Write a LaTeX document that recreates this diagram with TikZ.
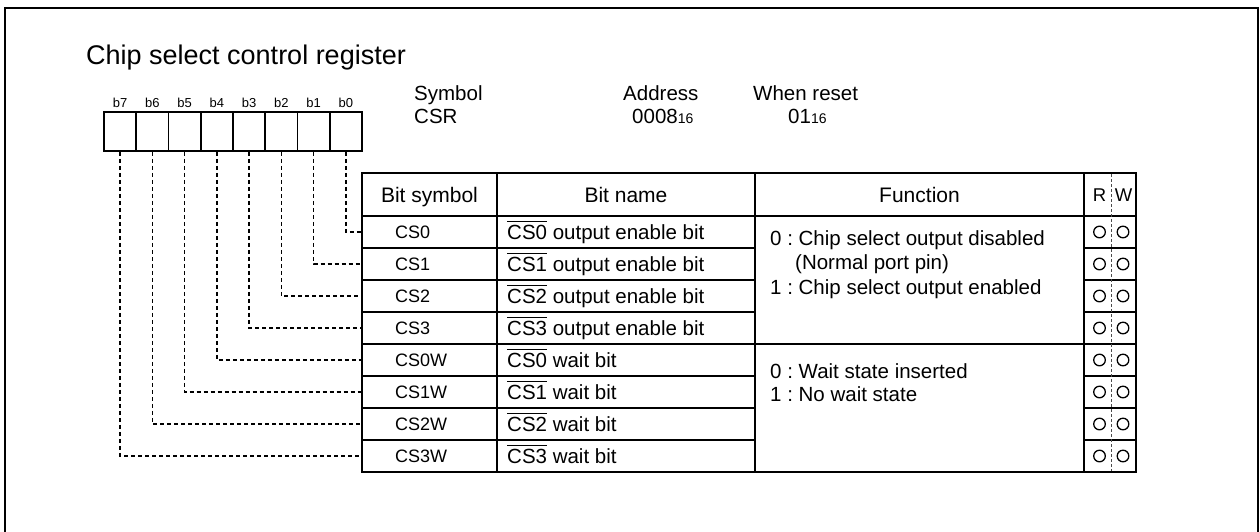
\documentclass[tikz,border=0pt]{standalone}
\usepackage{fontspec}
\setmainfont{Liberation Sans}
\frenchspacing
\newcommand\ovl[1]{\setbox0=\hbox{#1}\rlap{\rule[\dimexpr\ht0+3.2pt\relax]{\wd0}{1.1pt}}\box0\relax}
\tikzset{
  frame/.style={line width=2.6pt},
  tbl/.style={line width=1.8pt},
  regcell/.style={draw, line width=1.8pt, minimum width=32.25pt, minimum height=39pt, inner sep=0pt},
  symcell/.style={draw, line width=1.8pt, minimum width=135pt, minimum height=32pt, inner sep=0pt},
  namecell/.style={draw, line width=1.8pt, minimum width=258pt, minimum height=32pt, inner sep=0pt},
  conn/.style={line width=1.5pt, dash pattern=on 4pt off 3pt},
  rwdash/.style={line width=0.7pt, dash pattern=on 3pt off 2pt, black!70},
  circ/.style={line width=1.3pt},
  txt/.style={inner sep=0pt, anchor=base west},
  ctxt/.style={inner sep=0pt, anchor=base},
  titlefont/.style={font=\fontsize{27}{31}\selectfont},
  infofont/.style={font=\fontsize{20.5}{24}\selectfont},
  headfont/.style={font=\fontsize{21}{25}\selectfont},
  namefont/.style={font=\fontsize{20.5}{24}\selectfont},
  symfont/.style={font=\fontsize{18}{21}\selectfont},
  blblfont/.style={font=\fontsize{13}{15}\selectfont},
  rwfont/.style={font=\fontsize{18.5}{21}\selectfont}
}
\begin{document}
\begin{tikzpicture}[x=1pt,y=-1pt]
\path[use as bounding box] (0,0) rectangle (1260,531);
\draw[frame] (5,545) -- (5,8) -- (1258,8) -- (1258,545);

\node[txt, titlefont] (title) at (86,64) {Chip select control register};

% register
\foreach \i in {0,...,7} {
  \node[regcell] (b\i) at ({362-32.25*(\i+0.5)},131.5) {};
  \node[ctxt, blblfont] (l\i) at ({362-32.25*(\i+0.5)},107) {b\i};
}

% info
\node[txt, infofont] (symh) at (414,100) {Symbol};
\node[txt, infofont] (symv) at (414,123) {CSR};
\node[txt, infofont] (addh) at (623,100) {Address};
\node[txt, infofont] (addv) at (632,123) {0008{\fontsize{14}{16}\selectfont 16}};
\node[txt, infofont] (rsth) at (753,100) {When reset};
\node[txt, infofont] (rstv) at (788,123) {01{\fontsize{14}{16}\selectfont 16}};

% header
\draw[tbl] (362,173) rectangle (497,216);
\draw[tbl] (497,173) rectangle (755,216);
\draw[tbl] (755,173) rectangle (1084,216);
\draw[tbl] (1084,173) rectangle (1136,216);
\node[ctxt, headfont] (hsym) at (429.5,202) {Bit symbol};
\node[ctxt, headfont] (hname) at (626,202) {Bit name};
\node[ctxt, headfont] (hfun) at (919.5,202) {Function};
\node[ctxt, rwfont] (hr) at (1099.5,201) {R};
\node[ctxt, rwfont] (hw) at (1123.5,201) {W};

% rows
\foreach \i in {0,...,7} {
  \node[symcell] (s\i) at (429.5,{232+32*\i}) {};
  \node[namecell] (n\i) at (626,{232+32*\i}) {};
  \draw[tbl] (1084,{216+32*\i}) rectangle (1136,{248+32*\i});
  \draw[circ] (1099.5,{232+32*\i}) circle (5.8);
  \draw[circ] (1123,{232+32*\i}) circle (5.8);
  \draw[conn] (b\i.south) |- (s\i.west);
}
\foreach \i in {0,...,3} {
  \node[txt, symfont] (st\i) at (395,{238+32*\i}) {CS\i};
  \node[txt, namefont] (nt\i) at (507,{239.5+32*\i}) {\ovl{CS\i} output enable bit};
  \node[txt, symfont] (stw\i) at (395,{366+32*\i}) {CS\i W};
  \node[txt, namefont] (ntw\i) at (507,{367.5+32*\i}) {\ovl{CS\i} wait bit};
}

% function cells
\draw[tbl] (755,216) rectangle (1084,344);
\draw[tbl] (755,344) rectangle (1084,472);
\node[txt, infofont] (f1) at (770,245) {0 : Chip select output disabled};
\node[txt, infofont] (f2) at (795,269) {(Normal port pin)};
\node[txt, infofont] (f3) at (770,294) {1 : Chip select output enabled};
\node[txt, infofont] (f4) at (770,378) {0 : Wait state inserted};
\node[txt, infofont] (f5) at (770,401) {1 : No wait state};

\draw[rwdash] (1111,174) -- (1111,471);
\end{tikzpicture}
\end{document}
